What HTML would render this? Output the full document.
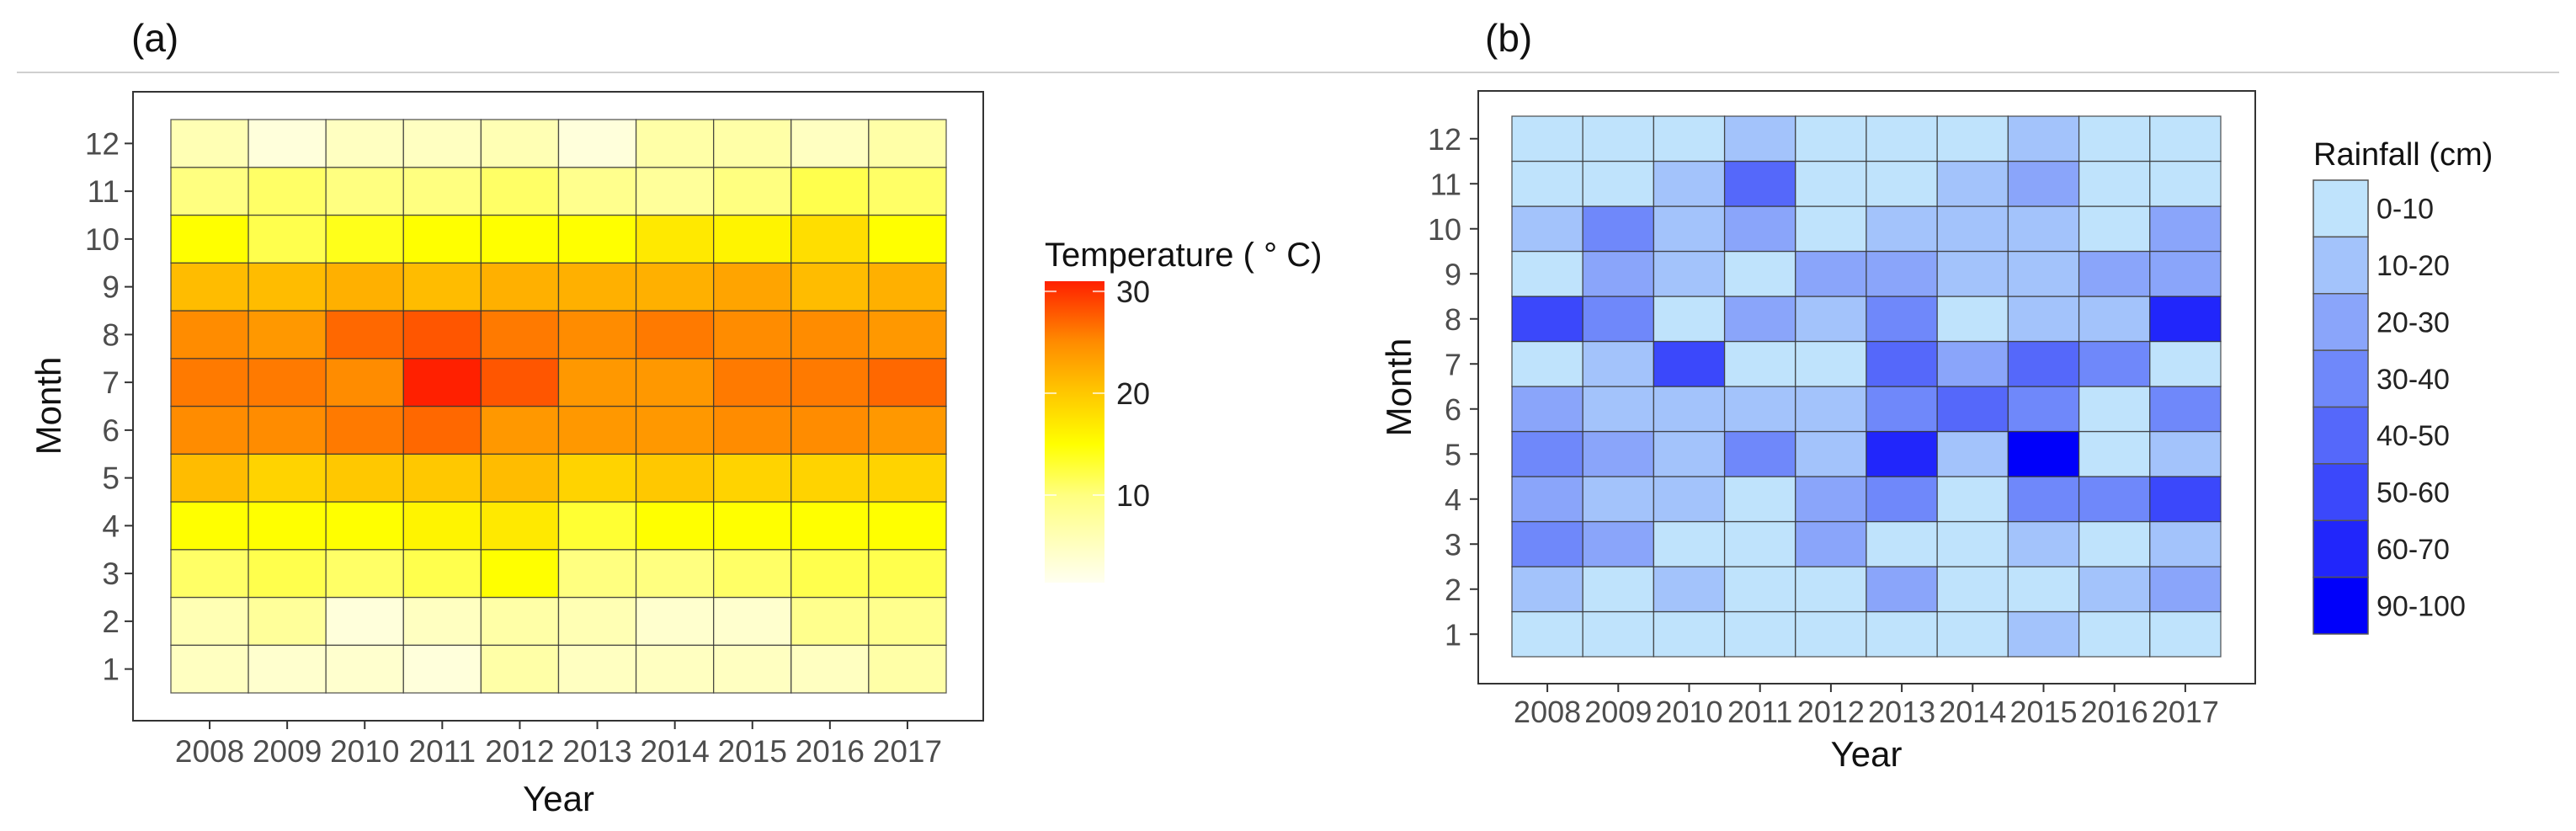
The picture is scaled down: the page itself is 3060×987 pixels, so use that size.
<!DOCTYPE html>
<html><head><meta charset="utf-8"><style>
html,body{margin:0;padding:0;background:#fff;}
svg{display:block;font-family:"Liberation Sans",sans-serif;}
</style></head><body>
<svg id="fig" width="3060" height="987" viewBox="0 0 3060 987" xmlns="http://www.w3.org/2000/svg">
<line x1="20" y1="86" x2="3040" y2="86" stroke="#cfcfcf" stroke-width="2"/>
<text x="156" y="61" font-size="46" fill="#111">(a)</text>
<text x="1764" y="61" font-size="46" fill="#111">(b)</text>
<g id="pa"></g>
<g id="pb"></g>
</svg>
<script>
const years = [2008,2009,2010,2011,2012,2013,2014,2015,2016,2017];
const months = [1,2,3,4,5,6,7,8,9,10,11,12];
// temperature values, rows = month 1..12, columns = years
const tempM1  = [5,4,4,3,7,5,5,5,5,7];
const tempM2  = [6,8,3,5,7,6,4,4,9,9];
const tempM3  = [11,12,11,12,15,10,10,11,12,12];
const tempM4  = [15,15,15,16,17,13,15,15,15,15];
const tempM5  = [21,19,20,20,21,19,20,19,19,19];
const tempM6  = [25,25,26,27,24,24,24,25,25,24];
const tempM7  = [26,26,25,31,28,24,24,26,26,27];
const tempM8  = [25,24,27,28,26,25,26,25,25,24];
const tempM9  = [21,21,22,21,22,22,22,23,21,22];
const tempM10 = [15,12,14,15,15,15,17,16,18,15];
const tempM11 = [10,11,10,10,11,9,8,10,12,11];
const tempM12 = [6,3,5,5,6,3,7,7,5,7];
const tempTicks = [10,20,30];
// rainfall class index, rows = month 1..12
const rainClasses = ["0-10","10-20","20-30","30-40","40-50","50-60","60-70","90-100"];
const rainM1  = [0,0,0,0,0,0,0,1,0,0];
const rainM2  = [1,0,1,0,0,2,0,0,1,2];
const rainM3  = [3,2,0,0,2,0,0,1,0,1];
const rainM4  = [2,1,1,0,2,3,0,3,3,5];
const rainM5  = [3,2,1,3,1,6,1,7,0,1];
const rainM6  = [2,1,1,1,1,3,4,3,0,3];
const rainM7  = [0,1,5,0,0,4,2,4,3,0];
const rainM8  = [5,3,0,2,1,3,0,1,1,6];
const rainM9  = [0,2,1,0,2,2,1,1,2,2];
const rainM10 = [1,3,1,2,0,1,1,1,0,2];
const rainM11 = [0,0,1,4,0,0,1,2,0,0];
const rainM12 = [0,0,0,1,0,0,0,1,0,0];

const tempRows=[tempM1,tempM2,tempM3,tempM4,tempM5,tempM6,tempM7,tempM8,tempM9,tempM10,tempM11,tempM12];
const rainRows=[rainM1,rainM2,rainM3,rainM4,rainM5,rainM6,rainM7,rainM8,rainM9,rainM10,rainM11,rainM12];
const rainColors=["#bfe3fc","#a3c3fb","#8aa5fa","#6f88fa","#5568fa","#3b48fb","#2126fb","#0000fa"];
const tStops=[[1.4,[255,255,240]],[10,[255,255,128]],[15,[255,255,0]],[20,[255,200,0]],[25,[255,140,0]],[31,[255,32,0]]];
function tColor(v){
  if(v<=tStops[0][0]) return "rgb("+tStops[0][1]+")";
  for(let i=1;i<tStops.length;i++){
    if(v<=tStops[i][0]){const a=tStops[i-1],b=tStops[i];const t=(v-a[0])/(b[0]-a[0]);
      return "rgb("+a[1].map((c,k)=>Math.round(c+(b[1][k]-c)*t)).join(",")+")";}
  }
  return "rgb("+tStops[tStops.length-1][1]+")";
}
const NS="http://www.w3.org/2000/svg";
function el(p,tag,attrs,txt){const e=document.createElementNS(NS,tag);for(const k in attrs)e.setAttribute(k,attrs[k]);if(txt!==undefined)e.textContent=txt;p.appendChild(e);return e;}

function panel(g,cfg){
  const {box,x0,x1,y0,y1,rows,colorFn,tickRight,xLab,yearY,monthX,monthY,fs}=cfg;
  const r=el(g,"rect",{x:box[0],y:box[1],width:box[2]-box[0],height:box[3]-box[1],fill:"none",stroke:"#333","stroke-width":2});
  
  
  const cw=(x1-x0)/years.length, rh=(y1-y0)/months.length;
  const xS=i=>x0+i*cw, yS=m=>y1-m*rh;
  rows.forEach((row,mi)=>{row.forEach((v,yi)=>{
    const c=el(g,"rect",{x:xS(yi),y:yS(mi+1),width:cw,height:rh,fill:colorFn(v),stroke:"#333","stroke-width":1.3,"stroke-opacity":0.8});
    
    
  });});
  months.forEach((m,mi)=>{
    const y=yS(mi+0.5);
    el(g,"line",{x1:box[0]-10,y1:y,x2:box[0],y2:y,stroke:"#333","stroke-width":2});
    const t=el(g,"text",{x:tickRight,y:y+13,"font-size":fs,fill:"#4d4d4d","text-anchor":"end"},m);
    
    
  });
  years.forEach((yr,yi)=>{
    const x=xS(yi+0.5);
    el(g,"line",{x1:x,y1:box[3],x2:x,y2:box[3]+10,stroke:"#333","stroke-width":2});
    const t=el(g,"text",{x:x,y:xLab,"font-size":fs,fill:"#4d4d4d","text-anchor":"middle"},yr);
    
    
  });
  const xt=el(g,"text",{x:(x0+x1)/2,y:yearY,"font-size":42,fill:"#111","text-anchor":"middle"},"Year");
  
  
  const yt=el(g,"text",{x:0,y:0,"font-size":42,fill:"#111","text-anchor":"middle",transform:"translate("+monthX+","+monthY+") rotate(-90)"},"Month");
  
  
}
const pa=document.getElementById("pa"), pb=document.getElementById("pb");
panel(pa,{box:[158,109,1168,856],x0:203,x1:1124,y0:142,y1:823,rows:tempRows,colorFn:tColor,tickRight:142,xLab:905,yearY:963,monthX:72,monthY:482,fs:37});
panel(pb,{box:[1756,108,2679,812],x0:1796,x1:2638,y0:138,y1:780,rows:rainRows,colorFn:v=>rainColors[v],tickRight:1736,xLab:858,yearY:910,monthX:1676,monthY:460,fs:36});

// temperature legend
const lgA=el(pa,"g",{});


const lt=el(lgA,"text",{x:1241,y:316,"font-size":40,fill:"#111"},"Temperature ( \u00B0 C)");


const cbTop=334,cbBot=692,vTop=31,vBot=1.4;
const cbY=v=>cbBot-(v-vBot)/(vTop-vBot)*(cbBot-cbTop);
const defs=el(document.getElementById("fig"),"defs",{});
const grad=el(defs,"linearGradient",{id:"tg",x1:0,y1:1,x2:0,y2:0});
tStops.forEach(s=>el(grad,"stop",{offset:((s[0]-vBot)/(vTop-vBot)),"stop-color":"rgb("+s[1]+")"}));
const cb=el(lgA,"rect",{x:1241,y:cbTop,width:71,height:cbBot-cbTop,fill:"url(#tg)"});


tempTicks.forEach(v=>{
  const y=cbY(v);
  el(lgA,"line",{x1:1241,y1:y,x2:1255,y2:y,stroke:"#fff","stroke-width":2,"stroke-opacity":0.7});
  el(lgA,"line",{x1:1298,y1:y,x2:1312,y2:y,stroke:"#fff","stroke-width":2,"stroke-opacity":0.7});
  const t=el(lgA,"text",{x:1326,y:y+13,"font-size":36,fill:"#222"},v);
  
  
});
// rainfall legend
const lgB=el(pb,"g",{});


const rt=el(lgB,"text",{x:2748,y:196,"font-size":38,fill:"#111"},"Rainfall (cm)");


const kTop=214,kH=(753-214)/rainClasses.length;
rainClasses.forEach((c,i)=>{
  const k=el(lgB,"rect",{x:2748,y:kTop+i*kH,width:65,height:kH,fill:rainColors[i],stroke:"#555","stroke-width":1.5});
  
  
  const t=el(lgB,"text",{x:2823,y:kTop+i*kH+kH/2+12,"font-size":34,fill:"#222"},c);
  
  
});
</script>
</body></html>
